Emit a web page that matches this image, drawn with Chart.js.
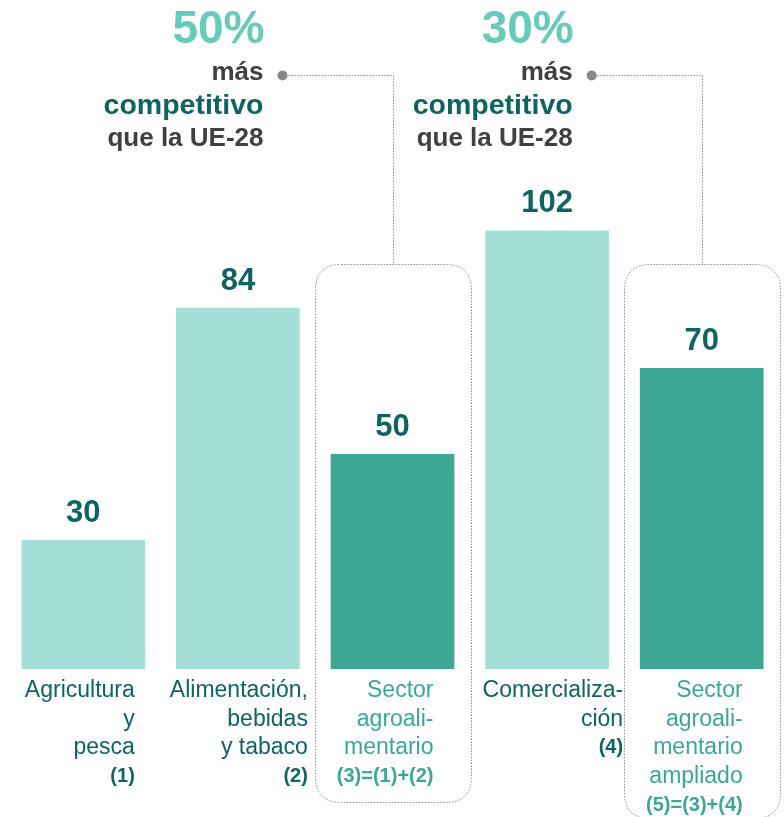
<!DOCTYPE html>
<html>
<head>
<meta charset="utf-8">
<script src="https://cdn.jsdelivr.net/npm/chart.js@4"></script>
<style>
  body { margin: 0; background: #fff; }
  #wrap { width: 784px; height: 817px; position: relative; }
</style>
</head>
<body>
<div id="wrap"><canvas id="chart"></canvas></div>
<script>
'use strict'

// data
var labels = [
  ['Agricultura', 'y', 'pesca'],
  ['Alimentación,', 'bebidas', 'y tabaco'],
  ['Sector', 'agroali-', 'mentario'],
  ['Comercializa-', 'ción'],
  ['Sector', 'agroali-', 'mentario', 'ampliado']
];
var notes = ['(1)', '(2)', '(3)=(1)+(2)', '(4)', '(5)=(3)+(4)'];
var values = [30, 84, 50, 102, 70];
var totals = [2, 4];              // bars that are sums of others
var gains = ['50%', '30%'];
var gainText = ['más', 'competitivo', 'que la UE-28'];

/////////////////////////////////////////////////////////////////
var LIGHT = '#a3dfd7';
var DARK = '#3ca795';
var INK = '#0d6461';
var GREY = '#404040';
var FONT = "'Liberation Sans', Arial, sans-serif";

// how far right of the bar centre each label block ends
var labelRight = [51.5, 70, 41, 76, 41];

function isTotal(i) {
  return totals.indexOf(i) !== -1;
}

function roundBox(ctx, x1, y1, x2, y2, r) {
  ctx.beginPath();
  ctx.moveTo(x1 + r, y1);
  ctx.lineTo(x2 - r, y1);
  ctx.quadraticCurveTo(x2, y1, x2, y1 + r);
  ctx.lineTo(x2, y2 - r);
  ctx.quadraticCurveTo(x2, y2, x2 - r, y2);
  ctx.lineTo(x1 + r, y2);
  ctx.quadraticCurveTo(x1, y2, x1, y2 - r);
  ctx.lineTo(x1, y1 + r);
  ctx.quadraticCurveTo(x1, y1, x1 + r, y1);
  ctx.stroke();
}

var decor = {
  id: 'decor',
  beforeDatasetsDraw: function (chart) {
    var ctx = chart.ctx;
    var meta = chart.getDatasetMeta(0);
    ctx.save();
    ctx.strokeStyle = '#8a8a8a';
    ctx.lineWidth = 1;
    ctx.setLineDash([1.5, 1.5]);
    for (var k = 0; k < totals.length; k++) {
      var bar = meta.data[totals[k]];
      var cx = Math.round(bar.x) + 0.5;
      var top = 264.5;
      var bottom = k === 0 ? 802.5 : 818.5;
      roundBox(ctx, cx - 78, top, cx + 78, bottom, 26);

      // connector from the note down to the box
      ctx.beginPath();
      ctx.moveTo(cx - 105, 75.5);
      ctx.lineTo(cx, 75.5);
      ctx.lineTo(cx, top);
      ctx.stroke();
    }
    ctx.restore();
  },
  afterDatasetsDraw: function (chart) {
    var ctx = chart.ctx;
    var meta = chart.getDatasetMeta(0);
    var y = chart.scales.y;
    ctx.save();

    for (var i = 0; i < values.length; i++) {
      var bar = meta.data[i];
      // value above bar
      ctx.textAlign = 'center';
      ctx.textBaseline = 'alphabetic';
      ctx.fillStyle = INK;
      ctx.font = 'bold 31px ' + FONT;
      ctx.fillText(values[i], bar.x, y.getPixelForValue(values[i]) - 18);

      // category label below
      var right = bar.x + labelRight[i];
      var base = 697;
      ctx.textAlign = 'right';
      ctx.fillStyle = isTotal(i) ? DARK : INK;
      ctx.font = '23px ' + FONT;
      for (var j = 0; j < labels[i].length; j++) {
        ctx.fillText(labels[i][j], right, base);
        base += 28.7;
      }
      ctx.font = 'bold 20px ' + FONT;
      ctx.fillText(notes[i], right, base - 1);
    }

    // notes over the totals
    for (var k = 0; k < totals.length; k++) {
      var cx = meta.data[totals[k]].x;
      var dotX = cx - 110;
      var tx = dotX - 19;
      ctx.fillStyle = '#888888';
      ctx.beginPath();
      ctx.arc(dotX, 75.5, 5, 0, Math.PI * 2);
      ctx.fill();

      ctx.textAlign = 'right';
      ctx.fillStyle = '#66cbb8';
      ctx.font = 'bold 46px ' + FONT;
      ctx.fillText(gains[k], tx + 1, 43);
      ctx.font = 'bold 26px ' + FONT;
      ctx.fillStyle = GREY;
      ctx.fillText(gainText[0], tx, 80);
      ctx.font = 'bold 28.5px ' + FONT;
      ctx.fillStyle = INK;
      ctx.fillText(gainText[1], tx, 114);
      ctx.font = 'bold 26px ' + FONT;
      ctx.fillStyle = GREY;
      ctx.fillText(gainText[2], tx, 146);
    }
    ctx.restore();
  }
};

/////////////////////////////////////////////////////////////////
var canvas = document.getElementById('chart');
var chart = new Chart(canvas.getContext('2d'), {
  type: 'bar',
  data: {
    labels: notes,
    datasets: [{
      data: values,
      backgroundColor: values.map(function (v, i) { return isTotal(i) ? DARK : LIGHT; }),
      borderWidth: 0,
      categoryPercentage: 1,
      barPercentage: 0.8
    }]
  },
  options: {
    responsive: true,
    maintainAspectRatio: false,
    animation: false,
    layout: { padding: { left: 6, right: 5, top: 153, bottom: 148 } },
    plugins: { legend: { display: false }, tooltip: { enabled: false } },
    scales: {
      x: { display: false },
      y: { display: false, min: 0, max: 120 }
    }
  },
  plugins: [decor]
});
</script>
</body>
</html>
